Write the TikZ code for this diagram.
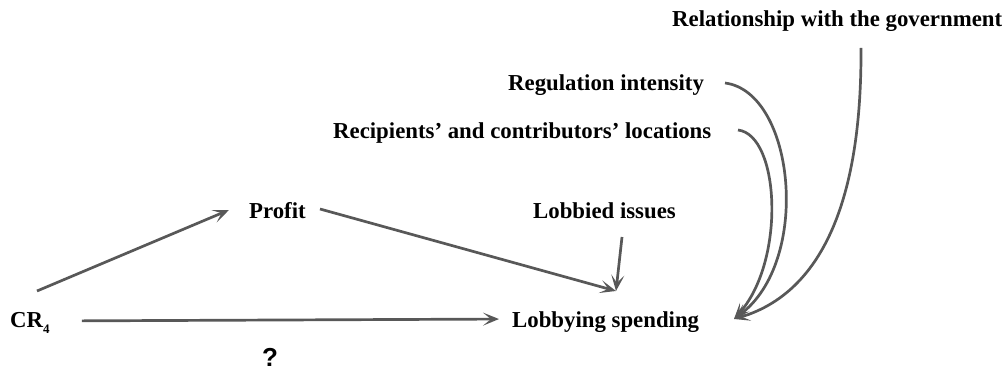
\documentclass[tikz,border=0pt]{standalone}
\usepackage{fontspec}
\setmainfont{Liberation Serif}
\newfontfamily\qfont{Liberation Sans}
\usetikzlibrary{arrows.meta,calc}
\definecolor{arrowgray}{RGB}{88,88,88}
\tikzset{
  lbl/.style={anchor=base west,inner sep=0pt,font=\fontsize{22.8}{26}\selectfont\bfseries},
  link/.style={draw=arrowgray,line width=2.7pt,
    -{Stealth[length=16pt,width=13pt,inset=8pt]}}
}
\begin{document}
\begin{tikzpicture}[x=1pt,y=-1pt]
\useasboundingbox (0,0) rectangle (1005,371);
% labels
\node[lbl] (rel) at (672,27) {Relationship with the government};
\node[lbl] (reg) at (508,91) {Regulation intensity};
\node[lbl] (rec) at (333,139) {Recipients’ and contributors’ locations};
\node[lbl] (profit) at (249,219) {Profit};
\node[lbl] (issues) at (533,219) {Lobbied issues};
\node[lbl] (spend) at (512,328) {Lobbying spending};
\node[lbl] (cr) at (10,328) {CR\raisebox{-6pt}{\fontsize{13}{13}\selectfont 4}};
\node[anchor=base,inner sep=0pt,font=\qfont\fontsize{26}{28}\selectfont\bfseries] (q) at (270,367) {?};
% connector end points
\coordinate (crA) at (37,291);
\coordinate (prIn) at (229,210);
\coordinate (prOut) at (320,209);
\coordinate (spTop) at (616,291);
\coordinate (isOut) at (622,237);
\coordinate (spIn) at (734,319);
\coordinate (regOut) at (725,83);
\coordinate (recOut) at (738,130);
\coordinate (relOut) at (861,48);
% straight links
\draw[link] (crA) -- (prIn);
\draw[link,shorten <=32pt,shorten >=13pt] (cr.east |- 0,321) -- (spend.west |- 0,319);
\draw[link] (prOut) -- (spTop);
\draw[link] (isOut) -- (spTop);
% curved links into lobbying spending
\draw[link] (regOut) .. controls (795,92) and (812,262) .. (spIn);
\draw[link] (recOut) .. controls (780,135) and (786,262) .. (spIn);
\draw[link] (relOut) .. controls (862,230) and (805,298) .. (spIn);
\end{tikzpicture}
\end{document}
